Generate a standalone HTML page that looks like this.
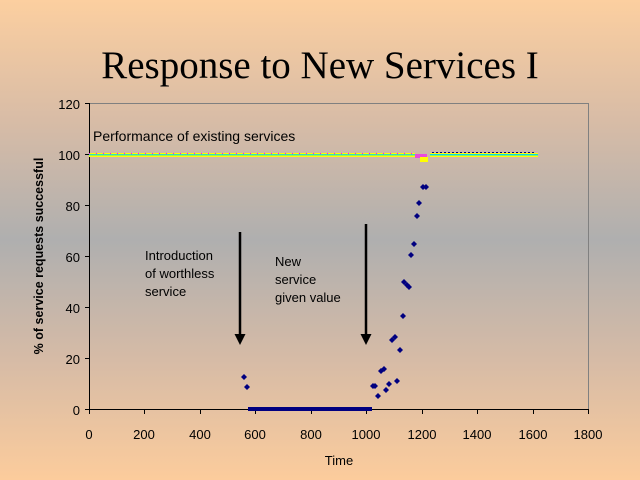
<!DOCTYPE html>
<html><head><meta charset="utf-8"><style>
html,body{margin:0;padding:0;width:640px;height:480px;overflow:hidden}
body{background:linear-gradient(to bottom,#fccfa0 0%,#d8bca6 25%,#afafaf 50%,#d6bba6 75%,#fccc9c 100%)}
</style></head><body>
<svg width="640" height="480" xmlns="http://www.w3.org/2000/svg" font-family="Liberation Sans, sans-serif">
<text x="320" y="78" font-family="Liberation Serif, serif" font-size="39" text-anchor="middle" fill="#000">Response to New Services I</text>
<polyline points="89.5,103.5 588.5,103.5 588.5,409.5" fill="none" stroke="#808080" stroke-width="1"/>
<line x1="89.5" y1="103" x2="89.5" y2="409.5" stroke="#000"/>
<line x1="89" y1="409.5" x2="589" y2="409.5" stroke="#000"/>
<g stroke="#000">
<line x1="85" y1="103.5" x2="89" y2="103.5"/><line x1="85" y1="154.5" x2="89" y2="154.5"/><line x1="85" y1="205.5" x2="89" y2="205.5"/><line x1="85" y1="256.5" x2="89" y2="256.5"/><line x1="85" y1="307.5" x2="89" y2="307.5"/><line x1="85" y1="358.5" x2="89" y2="358.5"/><line x1="85" y1="409.5" x2="89" y2="409.5"/>
<line x1="89.5" y1="409" x2="89.5" y2="414"/><line x1="144.5" y1="409" x2="144.5" y2="414"/><line x1="200.5" y1="409" x2="200.5" y2="414"/><line x1="255.5" y1="409" x2="255.5" y2="414"/><line x1="311.5" y1="409" x2="311.5" y2="414"/><line x1="366.5" y1="409" x2="366.5" y2="414"/><line x1="422.5" y1="409" x2="422.5" y2="414"/><line x1="477.5" y1="409" x2="477.5" y2="414"/><line x1="533.5" y1="409" x2="533.5" y2="414"/><line x1="588.5" y1="409" x2="588.5" y2="414"/>
</g>
<g font-size="13" fill="#000" text-anchor="end">
<text x="80" y="109">120</text><text x="80" y="160">100</text><text x="80" y="211">80</text><text x="80" y="262">60</text><text x="80" y="313">40</text><text x="80" y="364">20</text><text x="80" y="415">0</text>
</g>
<g font-size="13" fill="#000" text-anchor="middle">
<text x="89" y="439">0</text><text x="144" y="439">200</text><text x="200" y="439">400</text><text x="255" y="439">600</text><text x="311" y="439">800</text><text x="366" y="439">1000</text><text x="422" y="439">1200</text><text x="477" y="439">1400</text><text x="533" y="439">1600</text><text x="588" y="439">1800</text>
</g>
<text x="339" y="465" font-size="13" text-anchor="middle">Time</text>
<text transform="translate(43,256) rotate(-90)" font-size="12.5" font-weight="bold" text-anchor="middle">% of service requests successful</text>
<text x="93" y="141" font-size="14">Performance of existing services</text>
<g font-size="13"><text x="145" y="260">Introduction</text><text x="145" y="278">of worthless</text><text x="145" y="296">service</text>
<text x="275" y="266">New</text><text x="275" y="284">service</text><text x="275" y="302">given value</text></g>
<line x1="240" y1="232" x2="240" y2="334" stroke="#000" stroke-width="2.5"/><polygon points="234.5,334 245.5,334 240,345" fill="#000"/>
<line x1="366" y1="224" x2="366" y2="334" stroke="#000" stroke-width="2.5"/><polygon points="360.5,334 371.5,334 366,345" fill="#000"/>
<rect x="89" y="153" width="326" height="4" fill="#ffff00"/>
<rect x="89" y="154" width="326" height="1.5" fill="#00e0e0" opacity="0.8"/>
<line x1="89" y1="153.5" x2="415" y2="153.5" stroke="#ff00ff" stroke-dasharray="1,6" stroke-width="1"/>
<rect x="415" y="154" width="12" height="4" fill="#ff00ff" opacity="0.6"/>
<rect x="420" y="157" width="8" height="5" fill="#ffff00"/>
<rect x="430" y="153" width="108" height="4" fill="#ffff00"/>
<rect x="430" y="154" width="108" height="1.5" fill="#00e0e0"/>
<line x1="432" y1="152.5" x2="536" y2="152.5" stroke="#000080" stroke-dasharray="2,2"/>
<g fill="#000080">
<path d="M244,374l3,3-3,3-3-3z"/><path d="M247,384l3,3-3,3-3-3z"/>
<rect x="248" y="407" width="124" height="4"/>
<path d="M373,383l3,3-3,3-3-3z"/><path d="M375,383l3,3-3,3-3-3z"/><path d="M378,393l3,3-3,3-3-3z"/>
<path d="M381,368l3,3-3,3-3-3z"/><path d="M384,366l3,3-3,3-3-3z"/><path d="M386,387l3,3-3,3-3-3z"/>
<path d="M389,381l3,3-3,3-3-3z"/><path d="M397,378l3,3-3,3-3-3z"/><path d="M392,337l3,3-3,3-3-3z"/>
<path d="M395,334l3,3-3,3-3-3z"/><path d="M400,347l3,3-3,3-3-3z"/><path d="M403,313l3,3-3,3-3-3z"/>
<path d="M404,279l3,3-3,3-3-3z"/><path d="M407,282l3,3-3,3-3-3z"/><path d="M409,284l3,3-3,3-3-3z"/>
<path d="M411,252l3,3-3,3-3-3z"/><path d="M414,241l3,3-3,3-3-3z"/><path d="M417,213l3,3-3,3-3-3z"/>
<path d="M419,200l3,3-3,3-3-3z"/><path d="M423,184l3,3-3,3-3-3z"/><path d="M426,184l3,3-3,3-3-3z"/>
</g>
</svg>
</body></html>
